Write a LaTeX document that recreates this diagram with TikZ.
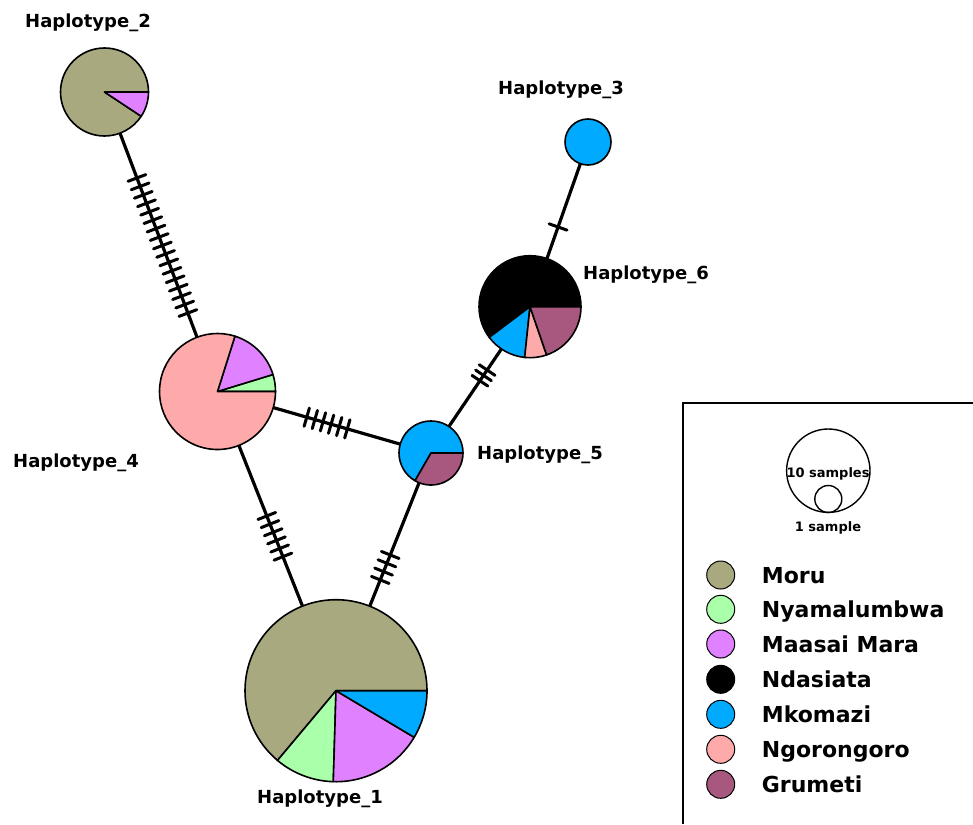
\documentclass[tikz,border=0pt]{standalone}
\usepackage{fontspec}
\setmainfont{DejaVu Sans}
\usetikzlibrary{calc}
\definecolor{moru}{RGB}{169,169,127}
\definecolor{nyama}{RGB}{170,255,170}
\definecolor{maasai}{RGB}{224,130,255}
\definecolor{ndasi}{RGB}{0,0,0}
\definecolor{mkom}{RGB}{0,170,255}
\definecolor{ngoro}{RGB}{255,170,170}
\definecolor{grum}{RGB}{168,87,127}
\tikzset{
  edgeline/.style={line width=3.2pt, black},
  tickline/.style={line width=3pt, black, line cap=round},
  pieline/.style={line width=1.6pt, black, line join=round},
  haplab/.style={font=\bfseries\fontsize{18}{20}\selectfont, anchor=base west, inner sep=0pt},
  leglab/.style={font=\bfseries\fontsize{22}{24}\selectfont, anchor=base west, inner sep=0pt},
  sizelab/.style={font=\bfseries\fontsize{13}{15}\selectfont, anchor=base, inner sep=0pt},
  legdot/.style={circle, draw=black, line width=1pt, minimum size=28pt, inner sep=0pt},
}
\newcommand\tickmarks[5]{%
  \foreach \k in {1,...,#3}{%
    \pgfmathsetmacro\tpos{#4+(\k-1)*(#5-#4)/max(#3-1,1)}
    \coordinate (tk) at ($(#1)!\tpos!(#2)$);
    \draw[tickline] ($(tk)!9.5pt!90:(#2)$) -- ($(tk)!9.5pt!-90:(#2)$);
  }}
\newcommand\slice[5]{%
  \filldraw[pieline, fill=#5] (#1) -- ++(#3:#2) arc[start angle=#3, end angle=#4, radius=#2] -- cycle;}
\begin{document}
\begin{tikzpicture}[x=1pt,y=1pt]
\useasboundingbox (0,-824) rectangle (973,0);
% centers
\coordinate (h1) at (336,-690.7);
\coordinate (h2) at (104.5,-92);
\coordinate (h3) at (588,-142);
\coordinate (h4) at (217.5,-391.5);
\coordinate (h5) at (431,-453);
\coordinate (h6) at (530,-306.7);
% edges
\draw[edgeline] (h2) -- (h4);
\draw[edgeline] (h4) -- (h5);
\draw[edgeline] (h4) -- (h1);
\draw[edgeline] (h5) -- (h1);
\draw[edgeline] (h6) -- (h5);
\draw[edgeline] (h3) -- (h6);
% mutation ticks
\tickmarks{h2}{h4}{17}{0.287}{0.738}
\tickmarks{h4}{h5}{6}{0.418}{0.608}
\tickmarks{h4}{h1}{6}{0.416}{0.552}
\tickmarks{h5}{h1}{4}{0.429}{0.534}
\tickmarks{h6}{h5}{3}{0.433}{0.506}
\tickmarks{h3}{h6}{1}{0.516}{0.516}
% pies
\slice{h2}{44pt}{0}{326.5}{moru}
\slice{h2}{44pt}{-33.5}{0}{maasai}
\slice{h4}{58pt}{0}{17}{nyama}
\slice{h4}{58pt}{17}{72.5}{maasai}
\slice{h4}{58pt}{72.5}{360}{ngoro}
\slice{h5}{32pt}{0}{240}{mkom}
\slice{h5}{32pt}{240}{360}{grum}
\slice{h6}{51pt}{0}{217}{ndasi}
\slice{h6}{51pt}{217}{264}{mkom}
\slice{h6}{51pt}{264}{289}{ngoro}
\slice{h6}{51pt}{289}{360}{grum}
\filldraw[pieline, fill=mkom] (h3) circle[radius=23pt];
\slice{h1}{91pt}{0}{230}{moru}
\slice{h1}{91pt}{230}{268.3}{nyama}
\slice{h1}{91pt}{268.3}{329.2}{maasai}
\slice{h1}{91pt}{329.2}{360}{mkom}
% labels
\node[haplab] (l2) at (25,-28) {Haplotype\_2};
\node[haplab] (l3) at (498,-95) {Haplotype\_3};
\node[haplab] (l6) at (583,-279) {Haplotype\_6};
\node[haplab] (l4) at (13,-467) {Haplotype\_4};
\node[haplab] (l5) at (477,-459) {Haplotype\_5};
\node[haplab] (l1) at (257,-803) {Haplotype\_1};
% legend box
\draw[line width=1.6pt] (683,-824) -- (683,-403) -- (973,-403);
\draw[line width=1.4pt] (828.3,-470.7) circle[radius=41.7pt];
\draw[line width=1.4pt] (828.3,-499) circle[radius=13.5pt];
\node[sizelab] (s10) at (828,-477) {10 samples};
\node[sizelab] (s1) at (828,-531) {1 sample};
\foreach \nm/\col/\yy in {Moru/moru/575, Nyamalumbwa/nyama/609.3, Maasai Mara/maasai/644, Ndasiata/ndasi/679.3, Mkomazi/mkom/714.3, Ngorongoro/ngoro/749.3, Grumeti/grum/784.3}{
  \node[legdot, fill=\col] (d\col) at (720.7,-\yy) {};
  \node[leglab] (t\col) at (761.7,-\yy-8) {\nm};
}
\end{tikzpicture}
\end{document}
